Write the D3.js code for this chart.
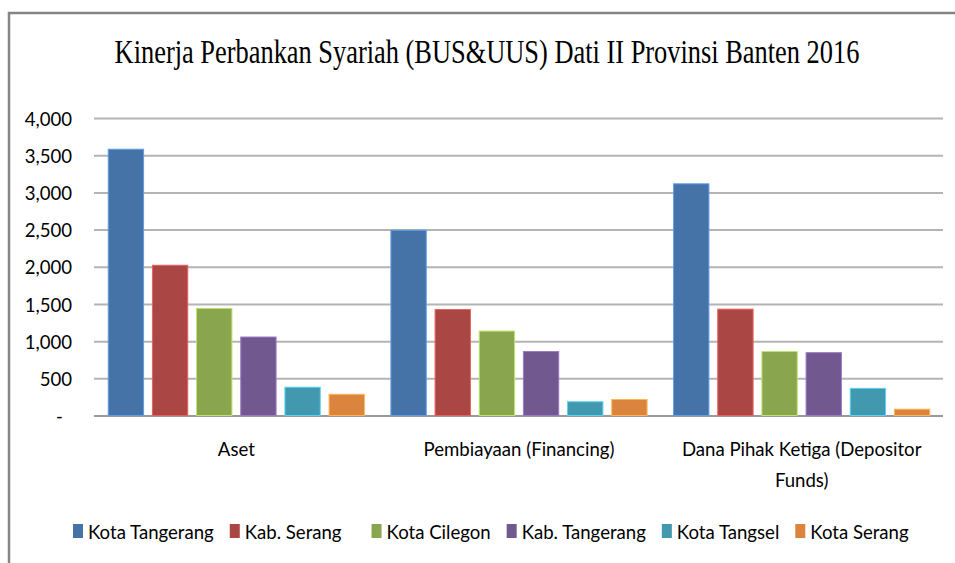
<!DOCTYPE html>
<html lang="id">
<head>
<meta charset="utf-8">
<script src="https://cdn.jsdelivr.net/npm/d3@7"></script>
<style>
body { margin: 0; background: #fff; }
svg { display: block; }
text { font-family: Lato, "Open Sans", sans-serif; fill: #000; }
</style>
</head>
<body>
<svg id="chart" width="955" height="563"></svg>
<script>

// data
var categories = ["Aset", "Pembiayaan (Financing)", "Dana Pihak Ketiga (Depositor Funds)"];
var categoryLines = [["Aset"], ["Pembiayaan (Financing)"], ["Dana Pihak Ketiga (Depositor", "Funds)"]];
var seriesNames = ["Kota Tangerang", "Kab. Serang", "Kota Cilegon", "Kab. Tangerang", "Kota Tangsel", "Kota Serang"];
var kotaTangerang = [3580, 2490, 3115];
var kabSerang = [2020, 1425, 1430];
var kotaCilegon = [1440, 1135, 860];
var kabTangerang = [1055, 860, 845];
var kotaTangsel = [380, 185, 365];
var kotaSerang = [285, 215, 85];
var yTicks = [0, 500, 1000, 1500, 2000, 2500, 3000, 3500, 4000];
var colors = ["#4572A7", "#AA4643", "#89A54E", "#71588F", "#4198AF", "#DB843D"];
var titleText = "Kinerja Perbankan Syariah (BUS&UUS) Dati II Provinsi Banten 2016";

var seriesValues = [kotaTangerang, kabSerang, kotaCilegon, kabTangerang, kotaTangsel, kotaSerang];

var svg = d3.select("#chart");
var sx = 0.93;        // narrow look of the labels
var fontSize = 20;

svg.append("rect").attr("width", 955).attr("height", 563).attr("fill", "#fff");

// frame (only top and left edges show)
svg.append("path")
  .attr("d", "M9,563V13H955")
  .attr("fill", "none")
  .attr("stroke", "#858585")
  .attr("stroke-width", 2.5);

// title
svg.append("text")
  .attr("text-anchor", "middle")
  .style("font-family", "'Liberation Serif', 'DejaVu Serif', serif")
  .style("font-size", "33px")
  .attr("transform", "translate(487,63) scale(0.8,1)")
  .text(titleText);

var left = 95, right = 943;
var y = d3.scaleLinear().domain([0, 4000]).range([415.5, 118]);
var x0 = d3.scaleBand().domain(categories).range([left, right]);

// Excel style: gap 75%, overlap -25%
var barW = x0.bandwidth() / 8;
var x1 = d3.scaleBand().domain(seriesNames)
  .range([barW * 0.375, x0.bandwidth() - barW * 0.375])
  .paddingInner(0.2);

// grid + y labels
var yAxis = d3.axisLeft(y)
  .tickValues(yTicks)
  .tickSize(-(right - left + 1))
  .tickFormat(function(d) { return d === 0 ? "-" : d3.format(",")(d); });

var ga = svg.append("g")
  .attr("transform", "translate(" + (left - 1) + ",0)")
  .call(yAxis);
ga.select(".domain").remove();
ga.selectAll(".tick line")
  .attr("stroke", function(d) { return d === 0 ? "#9a9a9a" : "#b4b4b4"; })
  .attr("stroke-width", 2);
ga.selectAll(".tick text")
  .attr("x", 0)
  .attr("dy", "0.36em")
  .attr("text-anchor", "end")
  .style("font-size", fontSize + "px")
  .style("font-family", "Lato, 'Open Sans', sans-serif")
  .attr("fill", "#000")
  .attr("transform", function(d) { return "translate(" + (d === 0 ? -31 : -22) + ",0) scale(" + sx + ",1)"; });

// bars
var groups = svg.append("g").selectAll("g")
  .data(categories)
  .join("g")
  .attr("transform", function(d) { return "translate(" + x0(d) + ",0)"; });

groups.selectAll("rect")
  .data(function(c, i) {
    return seriesNames.map(function(s, k) { return { series: s, value: seriesValues[k][i], k: k }; });
  })
  .join("rect")
  .attr("x", function(d) { return x1(d.series); })
  .attr("width", x1.bandwidth())
  .attr("y", function(d) { return y(d.value); })
  .attr("height", function(d) { return y(0) - y(d.value); })
  .attr("fill", function(d) { return colors[d.k]; })
  .attr("stroke", function(d) { return d3.color(colors[d.k]).brighter(0.9); })
  .attr("stroke-width", 1);

// category labels
categories.forEach(function(c, i) {
  categoryLines[i].forEach(function(line, j) {
    svg.append("text")
      .attr("text-anchor", "middle")
      .style("font-size", fontSize + "px")
      .attr("transform", "translate(" + (x0(c) + x0.bandwidth() / 2) + "," + (456 + j * 31) + ") scale(" + sx + ",1)")
      .text(line);
  });
});

// legend
var legend = svg.append("g");
var lx = 73;
seriesNames.forEach(function(s, k) {
  legend.append("rect")
    .attr("x", lx).attr("y", 524)
    .attr("width", 10).attr("height", 14)
    .attr("fill", colors[k]);
  var t = legend.append("text")
    .style("font-size", fontSize + "px")
    .attr("transform", "translate(" + (lx + 15) + ",539) scale(" + sx + ",1)")
    .text(s);
  var w = t.node().getComputedTextLength() * sx;
  lx += 15 + w + (k === 1 ? 30 : 16);
});

</script>
</body>
</html>
